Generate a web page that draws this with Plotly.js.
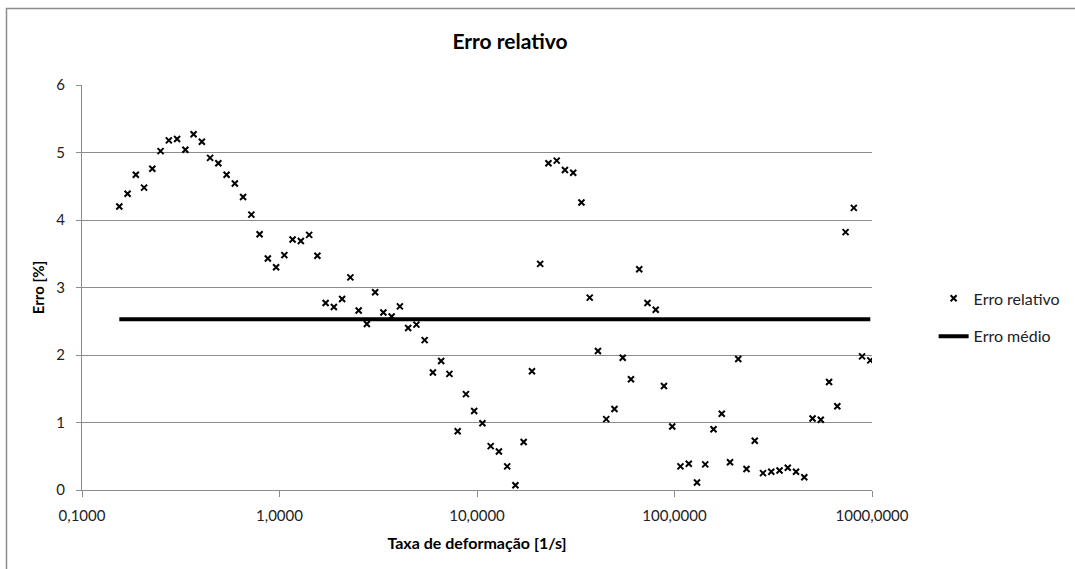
<!DOCTYPE html>
<html>
<head>
<meta charset="utf-8">
<script src="https://cdn.plot.ly/plotly-3.0.1.min.js"></script>
<style>html,body{margin:0;padding:0;background:#fff;}#chart{width:1075px;height:569px;}</style>
</head>
<body>
<div id="chart"></div>
<script>
// Strain rate [1/s] (log-spaced points)
const taxa = [
  0.1545, 0.1701, 0.1873, 0.2062, 0.2270, 0.2499, 0.2752, 0.3030, 0.3336, 0.3673,
  0.4044, 0.4452, 0.4901, 0.5397, 0.5941, 0.6541, 0.7202, 0.7929, 0.8730, 0.9612,
  1.058, 1.165, 1.283, 1.413, 1.555, 1.712, 1.885, 2.075, 2.285, 2.516,
  2.770, 3.050, 3.357, 3.697, 4.070, 4.481, 4.934, 5.433, 5.981, 6.585,
  7.250, 7.983, 8.790, 9.676, 10.65, 11.73, 12.91, 14.22, 15.65, 17.23,
  18.98, 20.89, 23.00, 25.33, 27.88, 30.70, 33.80, 37.21, 40.97, 45.11,
  49.66, 54.68, 60.20, 66.28, 72.97, 80.35, 88.46, 97.39, 107.2, 118.1,
  130.0, 143.1, 157.6, 173.5, 191.0, 210.3, 231.5, 254.9, 280.7, 309.0,
  340.2, 374.6, 412.4, 454.1, 500.0, 550.5, 606.1, 667.3, 734.7, 808.9,
  890.6, 980.4
];
// Relative error [%]
const erroRelativo = [
  4.20, 4.39, 4.67, 4.48, 4.76, 5.02, 5.18, 5.20, 5.04, 5.27,
  5.16, 4.92, 4.84, 4.67, 4.54, 4.34, 4.08, 3.79, 3.43, 3.30,
  3.48, 3.71, 3.69, 3.78, 3.47, 2.77, 2.71, 2.83, 3.15, 2.66,
  2.46, 2.93, 2.63, 2.57, 2.72, 2.40, 2.45, 2.22, 1.74, 1.91,
  1.72, 0.87, 1.42, 1.17, 0.99, 0.65, 0.57, 0.35, 0.07, 0.71,
  1.76, 3.35, 4.84, 4.88, 4.74, 4.70, 4.26, 2.85, 2.06, 1.05,
  1.20, 1.96, 1.64, 3.27, 2.77, 2.67, 1.54, 0.94, 0.35, 0.39,
  0.11, 0.38, 0.90, 1.13, 0.41, 1.94, 0.31, 0.73, 0.25, 0.27,
  0.29, 0.33, 0.27, 0.19, 1.06, 1.04, 1.60, 1.24, 3.82, 4.18,
  1.98, 1.92
];
// Mean error line
const mediaX = [0.1545, 980.4];
const mediaY = [2.53, 2.53];

const xTickVals = [0.1, 1, 10, 100, 1000];
const xTickText = ["0,1000", "1,0000", "10,0000", "100,0000", "1000,0000"];
const yTickVals = [0, 1, 2, 3, 4, 5, 6];

const FONT = "Lato, 'Open Sans', sans-serif";
const GRID = "#8c8c8c";

const traces = [
  {
    x: taxa, y: erroRelativo, type: "scatter", mode: "markers",
    name: "Erro relativo", legendgroup: "a",
    marker: {symbol: "x-thin-open", size: 6, color: "#000", line: {color: "#000", width: 2}}
  },
  {
    x: mediaX, y: mediaY, type: "scatter", mode: "lines",
    name: "Erro médio", legendgroup: "b",
    line: {color: "#000", width: 4}
  }
];

const layout = {
  width: 1075, height: 569,
  margin: {l: 82, r: 203, t: 85, b: 79, autoexpand: false},
  paper_bgcolor: "#fff", plot_bgcolor: "#fff",
  font: {family: FONT, size: 15, color: "#222"},
  title: {
    text: "<b>Erro relativo</b>",
    font: {family: FONT, size: 21, color: "#000"},
    x: 510 / 1075, xref: "container", xanchor: "center",
    y: 1 - 42 / 569, yref: "container", yanchor: "middle"
  },
  xaxis: {
    type: "log", range: [-1, 3], automargin: false,
    tickvals: xTickVals, ticktext: xTickText,
    showgrid: false, zeroline: false,
    showline: true, linecolor: GRID, linewidth: 1,
    ticks: "outside", ticklen: 6, tickcolor: GRID,
    ticklabelstandoff: 6,
    tickfont: {family: FONT, size: 15, color: "#222"},
    title: {text: "<b>Taxa de deformação [1/s]</b>", font: {family: FONT, size: 16, color: "#000"}, standoff: 14}
  },
  yaxis: {
    range: [0, 6], tickvals: yTickVals, automargin: false,
    showgrid: true, gridcolor: GRID, gridwidth: 1,
    zeroline: false,
    showline: true, linecolor: GRID, linewidth: 1,
    ticks: "outside", ticklen: 5, tickcolor: GRID,
    ticklabelstandoff: 8,
    tickfont: {family: FONT, size: 15, color: "#222"},
    title: {text: "<b>Erro [%]</b>", font: {family: FONT, size: 15, color: "#000"}, standoff: 8}
  },
  showlegend: true,
  legend: {
    x: 1.078, xanchor: "left", y: 0.515, yanchor: "top",
    traceorder: "grouped", tracegroupgap: 14,
    font: {family: FONT, size: 16, color: "#222"},
    bgcolor: "rgba(0,0,0,0)"
  },
  shapes: [
    {type: "rect", xref: "paper", yref: "paper",
     x0: (6.5 - 82) / 790, x1: 1.5, y0: -0.5, y1: (490 - 8.5) / 405,
     line: {color: "#8c8c8c", width: 1.5}, layer: "below"}
  ]
};

Plotly.newPlot("chart", traces, layout, {displayModeBar: false, staticPlot: true});
</script>
</body>
</html>
